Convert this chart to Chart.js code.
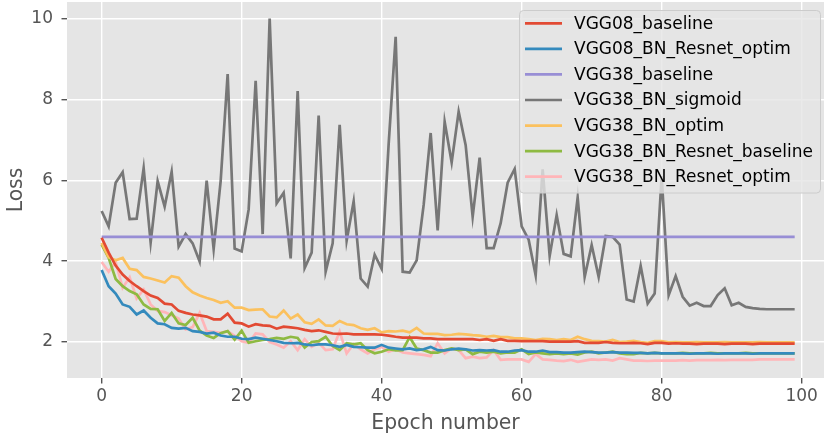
<!DOCTYPE html>
<html>
<head>
<meta charset="utf-8">
<script src="https://cdn.jsdelivr.net/npm/chart.js@4.4.0/dist/chart.umd.min.js"></script>
<style>
  html, body { margin: 0; padding: 0; background: #fff; overflow: hidden; }
</style>
</head>
<body>
<canvas id="lossChart" width="824" height="436"></canvas>
<script>
// epochs on the x axis
const epochs = [
  0, 1, 2, 3, 4, 5, 6, 7, 8, 9, 10, 11, 12, 13, 14, 15, 16, 17, 18, 19,
  20, 21, 22, 23, 24, 25, 26, 27, 28, 29, 30, 31, 32, 33, 34, 35, 36, 37, 38, 39,
  40, 41, 42, 43, 44, 45, 46, 47, 48, 49, 50, 51, 52, 53, 54, 55, 56, 57, 58, 59,
  60, 61, 62, 63, 64, 65, 66, 67, 68, 69, 70, 71, 72, 73, 74, 75, 76, 77, 78, 79,
  80, 81, 82, 83, 84, 85, 86, 87, 88, 89, 90, 91, 92, 93, 94, 95, 96, 97, 98, 99
];

const xTicks = [0, 20, 40, 60, 80, 100];
const yTicks = [2, 4, 6, 8, 10];

// loss per epoch, one array per model
const vgg08Baseline = [
  4.58, 4.21, 3.89, 3.67, 3.51, 3.38, 3.26, 3.15, 3.09, 2.95, 2.93, 2.77, 2.72, 2.68, 2.66, 2.63, 2.56, 2.56, 2.70, 2.48,
  2.46, 2.38, 2.44, 2.41, 2.40, 2.33, 2.38, 2.36, 2.34, 2.30, 2.27, 2.29, 2.25, 2.21, 2.20, 2.21, 2.19, 2.19, 2.19, 2.19,
  2.18, 2.16, 2.13, 2.11, 2.11, 2.11, 2.09, 2.09, 2.07, 2.07, 2.07, 2.07, 2.07, 2.07, 2.05, 2.07, 2.03, 2.07, 2.03, 2.03,
  2.02, 2.02, 2.02, 2.02, 2.01, 2.01, 2.01, 2.01, 2.02, 1.98, 1.98, 1.98, 2.00, 1.98, 1.97, 1.97, 1.98, 1.97, 1.95, 1.98,
  1.98, 1.96, 1.97, 1.96, 1.96, 1.95, 1.96, 1.96, 1.96, 1.95, 1.96, 1.96, 1.96, 1.95, 1.96, 1.96, 1.96, 1.96, 1.96, 1.96
];
const vgg08BnResnetOptim = [
  3.78, 3.38, 3.20, 2.93, 2.87, 2.68, 2.78, 2.60, 2.46, 2.44, 2.35, 2.33, 2.35, 2.27, 2.25, 2.21, 2.23, 2.16, 2.13, 2.13,
  2.08, 2.07, 2.11, 2.08, 2.05, 2.02, 1.98, 1.97, 1.98, 1.94, 1.92, 1.94, 1.94, 1.92, 1.88, 1.93, 1.88, 1.87, 1.86, 1.86,
  1.93, 1.86, 1.84, 1.82, 1.84, 1.80, 1.82, 1.88, 1.80, 1.79, 1.82, 1.84, 1.82, 1.79, 1.80, 1.79, 1.80, 1.76, 1.76, 1.79,
  1.80, 1.76, 1.76, 1.79, 1.75, 1.75, 1.74, 1.74, 1.75, 1.76, 1.75, 1.74, 1.74, 1.75, 1.74, 1.74, 1.73, 1.73, 1.72, 1.73,
  1.72, 1.72, 1.72, 1.72, 1.71, 1.72, 1.72, 1.72, 1.71, 1.72, 1.72, 1.72, 1.72, 1.71, 1.72, 1.72, 1.72, 1.72, 1.72, 1.72
];
const vgg38Baseline = [
  4.60, 4.60, 4.60, 4.60, 4.60, 4.60, 4.60, 4.60, 4.60, 4.60, 4.60, 4.60, 4.60, 4.60, 4.60, 4.60, 4.60, 4.60, 4.60, 4.60,
  4.60, 4.60, 4.60, 4.60, 4.60, 4.60, 4.60, 4.60, 4.60, 4.60, 4.60, 4.60, 4.60, 4.60, 4.60, 4.60, 4.60, 4.60, 4.60, 4.60,
  4.60, 4.60, 4.60, 4.60, 4.60, 4.60, 4.60, 4.60, 4.60, 4.60, 4.60, 4.60, 4.60, 4.60, 4.60, 4.60, 4.60, 4.60, 4.60, 4.60,
  4.60, 4.60, 4.60, 4.60, 4.60, 4.60, 4.60, 4.60, 4.60, 4.60, 4.60, 4.60, 4.60, 4.60, 4.60, 4.60, 4.60, 4.60, 4.60, 4.60,
  4.60, 4.60, 4.60, 4.60, 4.60, 4.60, 4.60, 4.60, 4.60, 4.60, 4.60, 4.60, 4.60, 4.60, 4.60, 4.60, 4.60, 4.60, 4.60, 4.60
];
const vgg38BnSigmoid = [
  5.24, 4.86, 5.94, 6.20, 5.04, 5.05, 6.30, 4.46, 5.98, 5.35, 6.21, 4.36, 4.67, 4.44, 3.99, 5.99, 4.30, 5.98, 8.63, 4.31,
  4.24, 5.28, 8.46, 4.67, 10.0, 5.43, 5.69, 4.07, 8.21, 3.83, 4.21, 7.60, 3.74, 4.44, 7.37, 4.51, 5.48, 3.57, 3.37, 4.16,
  3.81, 6.90, 9.55, 3.74, 3.72, 4.02, 5.39, 7.17, 4.76, 7.45, 6.44, 7.70, 6.87, 5.10, 6.56, 4.32, 4.32, 4.94, 5.94, 6.28,
  4.86, 4.53, 3.65, 6.27, 4.13, 5.14, 4.18, 4.12, 5.57, 3.61, 4.40, 3.61, 4.62, 4.60, 4.41, 3.05, 3.00, 3.88, 2.95, 3.20,
  6.10, 3.16, 3.63, 3.12, 2.90, 2.97, 2.89, 2.89, 3.16, 3.33, 2.91, 2.97, 2.87, 2.84, 2.82, 2.81, 2.81, 2.81, 2.81, 2.81
];
const vgg38BnOptim = [
  4.45, 4.10, 4.02, 4.08, 3.81, 3.78, 3.61, 3.57, 3.52, 3.47, 3.63, 3.59, 3.38, 3.23, 3.15, 3.09, 3.04, 2.97, 3.01, 2.85,
  2.85, 2.79, 2.80, 2.81, 2.63, 2.61, 2.78, 2.58, 2.68, 2.49, 2.45, 2.56, 2.41, 2.40, 2.52, 2.44, 2.42, 2.34, 2.30, 2.34,
  2.24, 2.27, 2.26, 2.28, 2.24, 2.35, 2.21, 2.20, 2.20, 2.17, 2.18, 2.20, 2.19, 2.17, 2.16, 2.13, 2.15, 2.12, 2.12, 2.09,
  2.09, 2.07, 2.05, 2.08, 2.07, 2.05, 2.07, 2.05, 2.13, 2.07, 2.03, 2.02, 2.01, 2.05, 2.00, 2.01, 2.03, 2.00, 1.98, 2.02,
  2.02, 1.99, 2.00, 1.99, 1.99, 2.00, 1.99, 1.99, 1.99, 2.00, 1.99, 1.99, 1.99, 1.99, 2.00, 1.99, 1.99, 1.99, 1.99, 1.99
];
const vgg38BnResnetBaseline = [
  4.41, 4.08, 3.56, 3.38, 3.26, 3.18, 2.93, 2.82, 2.81, 2.52, 2.72, 2.46, 2.42, 2.60, 2.28, 2.16, 2.10, 2.22, 2.27, 2.06,
  2.28, 1.98, 2.02, 2.05, 2.07, 2.10, 2.08, 2.13, 2.10, 1.86, 2.00, 2.02, 2.13, 1.90, 1.80, 1.97, 1.94, 1.97, 1.80, 1.72,
  1.76, 1.82, 1.79, 1.80, 2.12, 1.84, 1.80, 1.74, 1.74, 1.80, 1.84, 1.80, 1.82, 1.70, 1.76, 1.74, 1.76, 1.72, 1.74, 1.74,
  1.82, 1.70, 1.74, 1.72, 1.70, 1.72, 1.70, 1.72, 1.69, 1.74, 1.76, 1.72, 1.74, 1.76, 1.72, 1.70, 1.70, 1.73, 1.72, 1.73,
  1.72, 1.72, 1.72, 1.73, 1.72, 1.72, 1.72, 1.73, 1.72, 1.72, 1.72, 1.72, 1.73, 1.72, 1.72, 1.72, 1.72, 1.72, 1.72, 1.72
];
const vgg38BnResnetOptim = [
  3.98, 3.74, 3.98, 3.34, 3.60, 3.08, 3.30, 2.93, 2.77, 2.74, 2.66, 2.58, 2.31, 2.37, 2.72, 2.27, 2.25, 2.23, 2.27, 2.15,
  2.02, 1.98, 2.21, 2.19, 2.00, 1.94, 1.86, 2.02, 1.80, 2.07, 1.88, 1.98, 1.80, 1.82, 2.26, 1.72, 1.95, 1.82, 1.72, 1.82,
  1.88, 1.76, 1.82, 1.74, 1.72, 1.70, 1.68, 1.65, 1.97, 1.72, 1.84, 1.80, 1.60, 1.64, 1.60, 1.62, 1.80, 1.56, 1.57, 1.57,
  1.57, 1.51, 1.70, 1.57, 1.56, 1.54, 1.53, 1.56, 1.51, 1.54, 1.57, 1.56, 1.57, 1.54, 1.60, 1.57, 1.54, 1.54, 1.53, 1.54,
  1.54, 1.54, 1.54, 1.55, 1.54, 1.55, 1.55, 1.55, 1.56, 1.55, 1.56, 1.56, 1.56, 1.56, 1.57, 1.57, 1.57, 1.57, 1.57, 1.57
];

const seriesNames = [
  'VGG08_baseline', 'VGG08_BN_Resnet_optim', 'VGG38_baseline', 'VGG38_BN_sigmoid',
  'VGG38_BN_optim', 'VGG38_BN_Resnet_baseline', 'VGG38_BN_Resnet_optim'
];
const seriesValues = [
  vgg08Baseline, vgg08BnResnetOptim, vgg38Baseline, vgg38BnSigmoid,
  vgg38BnOptim, vgg38BnResnetBaseline, vgg38BnResnetOptim
];
// ggplot colour cycle
const seriesColors = ['#E24A33', '#348ABD', '#988ED5', '#777777', '#FBC15E', '#8EBA42', '#FFB5B8'];

const FONT = '"DejaVu Sans", sans-serif';

// grey panel behind the plot, like the ggplot style
const panelBg = {
  id: 'panelBg',
  beforeDraw(chart) {
    const { ctx, chartArea: a } = chart;
    ctx.save();
    ctx.fillStyle = '#ffffff';
    ctx.fillRect(0, 0, chart.width, chart.height);
    ctx.fillStyle = '#E5E5E5';
    ctx.fillRect(a.left, a.top, a.right - a.left, a.bottom - a.top);
    ctx.restore();
  }
};

// legend drawn inside the plot (upper right), semi transparent like matplotlib
const insideLegend = {
  id: 'insideLegend',
  afterDraw(chart) {
    const ctx = chart.ctx;
    ctx.save();
    ctx.beginPath();
    ctx.roundRect(519.5, 10.5, 301, 182.5, 4);
    ctx.fillStyle = 'rgba(229,229,229,0.8)';
    ctx.fill();
    ctx.strokeStyle = '#cccccc';
    ctx.lineWidth = 1;
    ctx.stroke();
    ctx.font = '17px ' + FONT;
    ctx.textBaseline = 'middle';
    chart.data.datasets.forEach((ds, i) => {
      const ly = 23.3 + i * 25.57;
      ctx.strokeStyle = ds.borderColor;
      ctx.lineWidth = 2.7;
      ctx.beginPath();
      ctx.moveTo(525, ly);
      ctx.lineTo(562, ly);
      ctx.stroke();
      ctx.fillStyle = '#000000';
      ctx.fillText(ds.label, 574, ly + 1);
    });
    ctx.restore();
  }
};

const datasets = seriesNames.map((name, i) => ({
  label: name,
  data: seriesValues[i].map((v, j) => ({ x: epochs[j], y: v })),
  borderColor: seriesColors[i],
  backgroundColor: seriesColors[i],
  borderWidth: 2.7,
  pointRadius: 0,
  tension: 0,
  fill: false
}));

// no extra room for overhanging tick labels, the panel fills the figure
function noLabelPadding(s) {
  s.paddingTop = 0;
  s.paddingBottom = 0;
  s.paddingLeft = 0;
  s.paddingRight = 0;
}

const config = {
  type: 'line',
  data: { datasets: datasets },
  options: {
    responsive: false,
    animation: false,
    devicePixelRatio: 1,
    layout: { padding: { top: 2, left: 0, right: 0, bottom: 0 } },
    plugins: {
      legend: { display: false },
      tooltip: { enabled: false }
    },
    scales: {
      x: {
        type: 'linear',
        min: -4.95,
        max: 103.19,
        afterBuildTicks: s => { s.ticks = xTicks.map(v => ({ value: v })); },
        afterFit: s => { s.height = 58; noLabelPadding(s); },
        border: { display: false },
        grid: { color: '#ffffff', lineWidth: 1.4, tickColor: '#555555', tickLength: 5.5 },
        ticks: { color: '#555555', font: { family: FONT, size: 17 }, padding: 2.5, maxRotation: 0 },
        title: {
          display: true, text: 'Epoch number', color: '#555555',
          font: { family: FONT, size: 20.4 }, padding: { top: 0, bottom: 0 }
        }
      },
      y: {
        type: 'linear',
        min: 1.11,
        max: 10.41,
        afterBuildTicks: s => { s.ticks = yTicks.map(v => ({ value: v })); },
        afterFit: s => { s.width = 67; noLabelPadding(s); },
        border: { display: false },
        grid: { color: '#ffffff', lineWidth: 1.4, tickColor: '#555555', tickLength: 5.5 },
        ticks: { color: '#555555', font: { family: FONT, size: 17 }, padding: 8.5 },
        title: {
          display: true, text: 'Loss', color: '#555555',
          font: { family: FONT, size: 20.4 }, padding: { top: 4, bottom: 0 }
        }
      }
    }
  },
  plugins: [panelBg, insideLegend]
};

const ctx = document.getElementById('lossChart').getContext('2d');
new Chart(ctx, config);
</script>
</body>
</html>
